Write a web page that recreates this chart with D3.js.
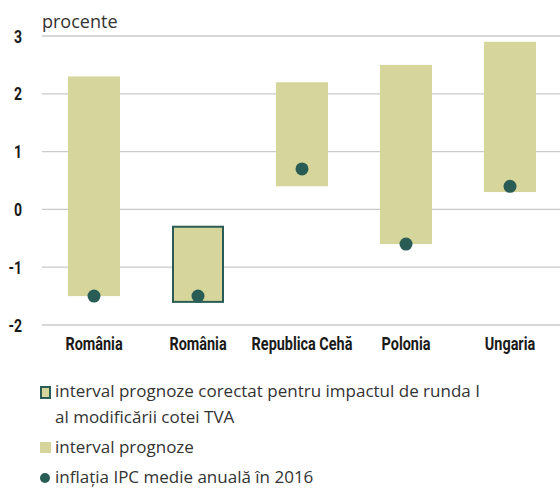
<!DOCTYPE html>
<html>
<head>
<meta charset="utf-8">
<script src="https://cdn.jsdelivr.net/npm/d3@7"></script>
<style>
  body { margin: 0; background: #fff; }
  svg { display: block; }
</style>
</head>
<body>
<div id="chart"></div>
<script>
const categories = ['România', 'România', 'Republica Cehă', 'Polonia', 'Ungaria'];
const rangeHigh = [2.3, -0.3, 2.2, 2.5, 2.9];
const rangeLow = [-1.5, -1.6, 0.4, -0.6, 0.3];
const inflation2016 = [-1.5, -1.5, 0.7, -0.6, 0.4];
const corrected = [false, true, false, false, false];
const yTicks = [-2, -1, 0, 1, 2, 3];

const W = 560, H = 488;
const barColor = '#d5d59c';
const dotColor = '#2a5c56';
const condFont = 'Roboto, "Liberation Sans Narrow", sans-serif';
const squeeze = 0.78; // fake a condensed face

const svg = d3.select('#chart').append('svg')
    .attr('width', W)
    .attr('height', H);

const x = d3.scaleBand()
    .domain(d3.range(categories.length))
    .range([42, 562])
    .paddingInner(0.5)
    .paddingOuter(0.25);

const y = d3.scaleLinear()
    .domain([-2, 3])
    .range([325, 36]);

// Gridlines
svg.append('g')
    .selectAll('line')
    .data(yTicks)
    .join('line')
    .attr('x1', 42)
    .attr('x2', W)
    .attr('y1', d => y(d))
    .attr('y2', d => y(d))
    .attr('stroke', '#c9cacc')
    .attr('stroke-width', 1.3);

// Y tick labels
svg.append('g')
    .selectAll('text')
    .data(yTicks)
    .join('text')
    .attr('transform', d => `translate(22,${y(d) + 6.5}) scale(${squeeze},1)`)
    .attr('text-anchor', 'end')
    .style('font-family', condFont)
    .style('font-weight', 'bold')
    .style('font-size', '18px')
    .attr('fill', '#1a1a1a')
    .text(d => d);

svg.append('text')
    .attr('x', 42)
    .attr('y', 28)
    .style('font-family', '"Open Sans", sans-serif')
    .style('font-size', '18px')
    .attr('fill', '#333')
    .text('procente');

// Range bars
const idx = d3.range(categories.length);
svg.append('g')
    .selectAll('rect')
    .data(idx)
    .join('rect')
    .attr('x', i => x(i) + (corrected[i] ? 1 : 0))
    .attr('width', i => x.bandwidth() - (corrected[i] ? 2 : 0))
    .attr('y', i => y(rangeHigh[i]))
    .attr('height', i => y(rangeLow[i]) - y(rangeHigh[i]))
    .attr('fill', barColor)
    .attr('stroke', i => corrected[i] ? dotColor : 'none')
    .attr('stroke-width', 2);

// Points
svg.append('g')
    .selectAll('circle')
    .data(idx)
    .join('circle')
    .attr('cx', i => x(i) + x.bandwidth() / 2)
    .attr('cy', i => y(inflation2016[i]))
    .attr('r', 6.5)
    .attr('fill', dotColor);

// Category labels
svg.append('g')
    .selectAll('text')
    .data(idx)
    .join('text')
    .attr('transform', i => `translate(${x(i) + x.bandwidth() / 2},350) scale(${squeeze},1)`)
    .attr('text-anchor', 'middle')
    .style('font-family', condFont)
    .style('font-weight', 'bold')
    .style('font-size', '18.5px')
    .attr('fill', '#1a1a1a')
    .text(i => categories[i]);

// Legend
const legend = svg.append('g')
    .style('font-family', '"Open Sans", sans-serif')
    .style('font-size', '17px')
    .attr('fill', '#333');

legend.append('rect')
    .attr('x', 41).attr('y', 387).attr('width', 9).attr('height', 11)
    .attr('fill', barColor).attr('stroke', dotColor).attr('stroke-width', 2);
legend.append('text').attr('x', 55).attr('y', 397)
    .text('interval prognoze corectat pentru impactul de runda I');
legend.append('text').attr('x', 55).attr('y', 423)
    .text('al modificării cotei TVA');

legend.append('rect')
    .attr('x', 40).attr('y', 442).attr('width', 11).attr('height', 11)
    .attr('fill', barColor);
legend.append('text').attr('x', 55).attr('y', 453)
    .text('interval prognoze');

legend.append('circle')
    .attr('cx', 45).attr('cy', 478).attr('r', 5)
    .attr('fill', dotColor);
legend.append('text').attr('x', 55).attr('y', 483)
    .text('inflația IPC medie anuală în 2016');
</script>
</body>
</html>
